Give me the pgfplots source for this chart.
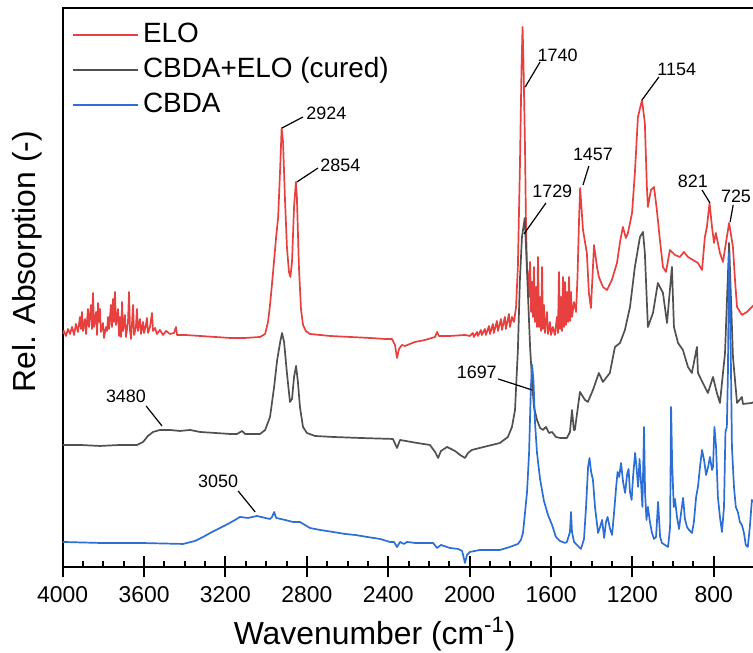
\documentclass[border=0pt]{standalone}
\usepackage{fontspec}
\setmainfont{Liberation Sans}
\usepackage{pgfplots}
\pgfplotsset{compat=1.18}

\definecolor{elored}{RGB}{232,64,62}
\definecolor{curedgray}{RGB}{80,80,80}
\definecolor{cbdablue}{RGB}{44,110,214}

\newcommand{\annot}{\fontsize{9}{10}\selectfont}

\begin{document}
\begin{tikzpicture}
\begin{axis}[
  scale only axis,
  width=345.95bp, height=279.5bp,
  x dir=reverse,
  xmin=600, xmax=4000,
  ymin=0, ymax=559,
  xtick={800,1200,...,4000},
  minor x tick num=3,
  xtick pos=left,
  ytick=\empty,
  tick align=inside,
  major tick length=10.5bp,
  minor tick length=3bp,
  major tick style={yshift=-5.25bp, line width=1bp, black},
  minor tick style={line width=1bp, black},
  axis line style={line width=1bp},
  /pgf/number format/assume math mode=true,
  /pgf/number format/1000 sep={},
  xticklabel style={font=\fontsize{11.5}{13}\selectfont, yshift=-6.5bp},
  xlabel={Wavenumber (cm\textsuperscript{-1})},
  ylabel={Rel. Absorption (-)},
  xlabel style={font=\fontsize{16}{18}\selectfont, at={(rel axis cs:0.451,0)}, anchor=base, yshift=-39bp},
  ylabel style={font=\fontsize{16}{18}\selectfont, at={(rel axis cs:0,0.546)}, anchor=base, yshift=13.35bp},
  legend cell align=left,
  legend image code/.code={\draw[#1, line width=1bp] (0bp,0bp) -- (32.5bp,0bp);},
  legend image post style={line width=1bp},
  legend style={draw=none, fill=none, at={(0,1)}, anchor=north west,
    xshift=1.5bp, yshift=-3bp, font=\fontsize{14}{16}\selectfont,
    row sep=0.5bp, nodes={inner sep=2bp, text height=10bp, text depth=3bp}},
  every axis plot/.append style={line width=0.85bp, line join=round},
]
% ELO
\addplot[elored] table {
x y
4000 233
3994 236
3984 231
3974 238
3964 233
3954 240
3944 232
3935 243
3925 235
3915 250
3910 238
3905 255
3900 236
3890 248
3885 233
3876 258
3871 240
3861 262
3856 238
3851 274
3846 240
3836 255
3831 232
3826 264
3821 245
3817 258
3812 235
3802 244
3797 229
3787 240
3782 236
3777 250
3772 238
3763 262
3758 240
3753 268
3748 245
3743 275
3738 242
3728 258
3723 231
3718 250
3713 230
3708 265
3704 236
3694 252
3689 230
3679 245
3674 275
3669 236
3664 228
3654 262
3649 232
3640 240
3635 258
3630 236
3620 248
3615 233
3605 245
3600 234
3591 242
3586 249
3581 234
3571 240
3561 254
3556 236
3546 239
3537 233
3522 237
3507 232
3492 236
3473 233
3453 234
3443 240
3438 232
3399 232
3325 231
3251 230
3178 229
3104 229
3030 230
3005 233
2991 245
2981 262
2966 295
2951 330
2941 350
2931 400
2924 439
2917 425
2908 370
2898 320
2888 295
2881 290
2873 305
2863 360
2854 385
2849 370
2839 300
2829 258
2819 242
2805 236
2785 233
2686 231
2588 230
2489 229
2416 228
2382 228
2367 222
2357 209
2347 218
2333 222
2318 221
2269 225
2219 227
2170 230
2160 235
2151 231
2097 231
2023 232
1999 231
1984 234
1979 230
1964 235
1959 231
1945 237
1940 232
1925 238
1920 232
1905 241
1900 233
1886 243
1881 234
1866 246
1861 236
1846 248
1841 237
1827 250
1822 238
1807 253
1802 240
1792 250
1782 245
1772 260
1763 300
1753 400
1745 500
1740 540
1736 510
1728 420
1723 340
1718 300
1713 290
1708 270
1703 305
1698 255
1693 285
1689 250
1684 300
1679 245
1674 280
1669 240
1664 310
1659 240
1654 270
1649 236
1644 300
1640 238
1635 262
1630 234
1620 255
1615 233
1605 245
1600 232
1591 240
1581 232
1571 250
1566 234
1561 295
1556 238
1551 270
1546 236
1541 290
1536 240
1531 285
1527 242
1522 275
1517 245
1512 290
1507 246
1502 275
1497 250
1487 265
1477 255
1470 290
1462 350
1457 379
1443 337
1424 314
1414 274
1404 259
1394 300
1389 322
1374 300
1365 290
1345 280
1325 277
1301 287
1276 304
1261 325
1247 340
1232 329
1222 334
1202 354
1188 394
1173 450
1153 467
1139 444
1129 380
1124 360
1109 377
1094 380
1080 357
1065 327
1050 300
1035 295
1016 317
991 312
967 310
947 315
927 310
903 307
878 304
858 297
844 330
834 340
821 364
809 340
799 324
790 334
770 314
755 305
736 330
725 344
706 320
696 287
686 260
662 252
637 255
613 260
603 262
};
\addlegendentry{ELO}
% CBDA+ELO (cured)
\addplot[curedgray] table {
x y
4000 122
3915 122
3817 121
3718 122
3635 122
3605 125
3581 131
3556 135
3522 137
3473 137
3424 136
3374 137
3325 135
3251 134
3178 133
3143 133
3118 136
3104 133
3030 133
3005 137
2981 150
2961 180
2946 207
2931 225
2922 234
2912 225
2898 194
2883 165
2873 168
2863 190
2853 201
2844 185
2834 160
2819 140
2800 134
2760 131
2672 130
2539 129
2377 128
2357 119
2342 127
2259 124
2195 122
2170 115
2155 109
2141 116
2111 120
2072 116
2047 112
2023 109
2008 114
1989 117
1950 119
1851 124
1812 130
1792 140
1777 157
1763 217
1753 287
1743 330
1729 349
1723 320
1713 270
1703 220
1693 185
1684 160
1669 147
1654 139
1640 137
1625 140
1610 134
1595 135
1576 130
1556 129
1522 129
1507 135
1497 157
1488 137
1483 137
1458 175
1433 167
1419 165
1394 177
1365 194
1345 185
1311 194
1286 220
1261 224
1237 237
1212 260
1188 300
1163 330
1148 335
1139 314
1124 240
1099 254
1075 284
1050 274
1030 244
1006 300
996 240
976 224
952 217
927 200
908 194
883 220
878 194
854 184
829 174
804 190
785 174
770 164
745 214
725 324
706 210
686 164
662 170
657 163
613 164
603 165
};
\addlegendentry{CBDA+ELO (cured)}
% CBDA
\addplot[cbdablue] table {
x y
4000 25
3817 24
3620 24
3409 23
3350 26
3310 30
3266 35
3227 39
3188 43
3153 47
3129 50
3089 49
3045 51
3005 49
2981 48
2971 50
2961 55
2951 49
2907 47
2868 45
2834 45
2785 39
2735 37
2672 35
2612 33
2563 32
2504 30
2440 28
2392 25
2372 25
2357 20
2342 25
2323 23
2308 25
2269 24
2219 24
2180 24
2160 19
2141 22
2097 19
2057 18
2037 16
2023 4
2013 12
1999 15
1950 17
1851 17
1802 20
1763 23
1748 27
1738 34
1728 54
1718 75
1708 114
1699 180
1693 202
1686 185
1679 145
1669 114
1654 88
1635 66
1615 52
1595 42
1576 30
1556 26
1531 24
1522 25
1507 35
1502 55
1497 35
1487 25
1468 21
1453 18
1438 28
1428 60
1418 100
1411 109
1403 95
1394 87
1384 60
1369 34
1359 40
1349 47
1339 29
1330 45
1322 50
1310 38
1300 32
1290 55
1280 80
1273 95
1265 90
1256 104
1246 85
1236 74
1226 93
1219 98
1212 75
1204 67
1197 90
1187 114
1180 100
1172 80
1165 108
1158 85
1151 60
1143 140
1138 75
1131 47
1124 60
1114 45
1104 34
1094 28
1084 30
1074 65
1064 30
1055 24
1040 22
1025 20
1015 40
1010 160
1005 105
997 60
991 68
981 50
971 38
961 54
951 69
942 48
932 40
922 37
907 34
898 45
887 70
878 80
868 100
858 117
848 107
838 92
828 100
819 110
809 97
804 100
797 140
789 120
780 70
770 50
760 35
750 60
743 135
736 140
731 190
725 314
719 250
711 120
701 80
692 60
682 55
672 45
662 42
652 34
643 22
633 20
623 40
613 67
603 65
};
\addlegendentry{CBDA}
% peak annotations
\draw[line width=0.6bp] (axis cs:2922,439) -- (axis cs:2819,450);
\node[anchor=west, inner sep=0pt, font=\annot] at (axis cs:2804,454) {2924};
\draw[line width=0.6bp] (axis cs:2849,385) -- (axis cs:2745,399);
\node[anchor=west, inner sep=0pt, font=\annot] at (axis cs:2735,402) {2854};
\draw[line width=0.6bp] (axis cs:1727,480) -- (axis cs:1654,505);
\node[anchor=south west, inner sep=0pt, font=\annot] at (axis cs:1668,505) {1740};
\draw[line width=0.6bp] (axis cs:1153,467) -- (axis cs:1070,490);
\node[anchor=south west, inner sep=0pt, font=\annot] at (axis cs:1079,491) {1154};
\draw[line width=0.6bp] (axis cs:1443,382) -- (axis cs:1414,401);
\node[anchor=south, inner sep=0pt, font=\annot] at (axis cs:1394,406) {1457};
\draw[line width=0.6bp] (axis cs:1733,333) -- (axis cs:1625,364);
\node[anchor=south west, inner sep=0pt, font=\annot] at (axis cs:1694,369) {1729};
\draw[line width=0.6bp] (axis cs:819,364) -- (axis cs:858,377);
\node[anchor=south east, inner sep=0pt, font=\annot] at (axis cs:828,379) {821};
\draw[line width=0.6bp] (axis cs:720,345) -- (axis cs:705,362);
\node[anchor=south, inner sep=0pt, font=\annot] at (axis cs:691,364) {725};
\draw[line width=0.6bp] (axis cs:3590,161) -- (axis cs:3512,141);
\node[inner sep=0pt, font=\annot] at (axis cs:3689,171) {3480};
\draw[line width=0.6bp] (axis cs:3138,76) -- (axis cs:3054,55);
\node[inner sep=0pt, font=\annot] at (axis cs:3236,86) {3050};
\draw[line width=0.6bp] (axis cs:1860,188) -- (axis cs:1693,177);
\node[anchor=east, inner sep=0pt, font=\annot] at (axis cs:1865,195) {1697};
\end{axis}
\pgfresetboundingbox
\path[use as bounding box] (-31.35bp,-43bp) rectangle (345.18bp,283.5bp);
\end{tikzpicture}
\end{document}
